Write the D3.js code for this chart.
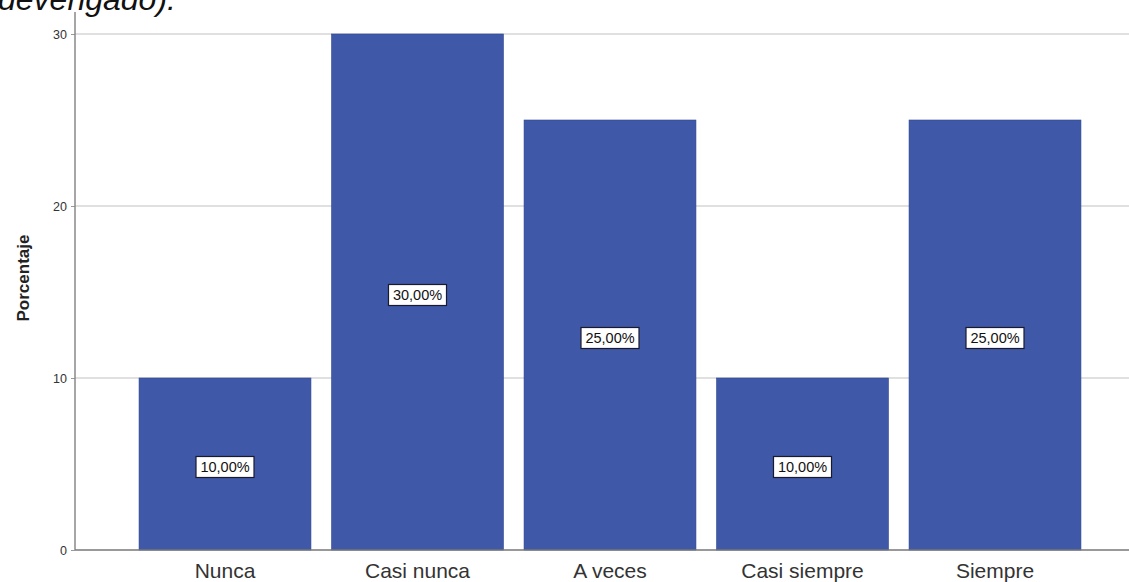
<!DOCTYPE html>
<html>
<head>
<meta charset="utf-8">
<script src="https://cdn.jsdelivr.net/npm/d3@7"></script>
<style>
  html, body { margin: 0; padding: 0; background: #fff; }
  svg { display: block; }
</style>
</head>
<body>
<svg id="chart" width="1129" height="582"></svg>
<script>
// Frequency distribution (percent) by response category
const categories = ["Nunca", "Casi nunca", "A veces", "Casi siempre", "Siempre"];
const percentages = [10, 30, 25, 10, 25];
const yTicks = [0, 10, 20, 30];
const yLabel = "Porcentaje";
const captionTail = "devengado).";

const svg = d3.select("#chart");
const W = 1129, H = 582;
const axisX = 75, baseY = 550, topY = 34;
const font = "Liberation Sans, Arial, sans-serif";

const x = d3.scaleBand()
  .domain(categories)
  .range([128.75, 1091.25])
  .paddingInner(0.107)
  .paddingOuter(0.0535);

const y = d3.scaleLinear().domain([0, 30]).range([baseY, topY]);

// tail of the figure caption running above the plot
svg.append("text")
  .attr("x", -2).attr("y", 10)
  .attr("font-family", font)
  .attr("font-size", 32).attr("font-style", "italic")
  .attr("fill", "#111")
  .text(captionTail);

// horizontal gridlines
svg.append("g").selectAll("line")
  .data(yTicks.filter(d => d > 0))
  .join("line")
  .attr("x1", axisX).attr("x2", W)
  .attr("y1", d => y(d)).attr("y2", d => y(d))
  .attr("stroke", "#d6d6d6").attr("stroke-width", 1.5);

// bars
svg.append("g").selectAll("rect")
  .data(categories)
  .join("rect")
  .attr("x", d => x(d))
  .attr("width", x.bandwidth())
  .attr("y", (d, i) => y(percentages[i]))
  .attr("height", (d, i) => baseY - y(percentages[i]))
  .attr("fill", "#3f59a8")
  .attr("stroke", "#2f4690").attr("stroke-width", 0.6);

// y axis
const yAxis = d3.axisLeft(y).tickValues(yTicks).tickSize(4).tickPadding(4);
const gy = svg.append("g").attr("transform", `translate(${axisX},0)`).call(yAxis);
gy.select(".domain").remove();
gy.selectAll(".tick line").attr("stroke", "#999");
gy.selectAll(".tick text")
  .attr("font-family", font)
  .attr("font-size", 12.5).attr("fill", "#333");
svg.append("line")
  .attr("x1", axisX).attr("x2", axisX)
  .attr("y1", 12).attr("y2", baseY)
  .attr("stroke", "#888").attr("stroke-width", 1.5);

// x axis
const xAxis = d3.axisBottom(x).tickSize(0).tickPadding(13);
const gx = svg.append("g").attr("transform", `translate(0,${baseY})`).call(xAxis);
gx.select(".domain").remove();
gx.selectAll(".tick text")
  .attr("font-family", font)
  .attr("font-size", 21).attr("fill", "#333");
svg.append("line")
  .attr("x1", axisX).attr("x2", W)
  .attr("y1", baseY).attr("y2", baseY)
  .attr("stroke", "#777").attr("stroke-width", 1.5);

// y axis title
svg.append("text")
  .attr("transform", `translate(29,${278}) rotate(-90)`)
  .attr("text-anchor", "middle")
  .attr("font-family", font)
  .attr("font-size", 17).attr("font-weight", "bold")
  .attr("fill", "#222")
  .text(yLabel);

// value labels in boxes at bar midpoints
const fmt = v => v.toFixed(2).replace(".", ",") + "%";
const lab = svg.append("g").selectAll("g")
  .data(categories)
  .join("g")
  .attr("transform", (d, i) => `translate(${x(d) + x.bandwidth() / 2},${y(percentages[i] / 2) + 3})`);
lab.append("rect")
  .attr("x", -29).attr("y", -10.5).attr("width", 58).attr("height", 21)
  .attr("fill", "#fff").attr("stroke", "#1a1a2e").attr("stroke-width", 1.2);
lab.append("text")
  .attr("text-anchor", "middle").attr("dy", "0.36em")
  .attr("font-family", font)
  .attr("font-size", 14.5).attr("fill", "#111")
  .text((d, i) => fmt(percentages[i]));
</script>
</body>
</html>
